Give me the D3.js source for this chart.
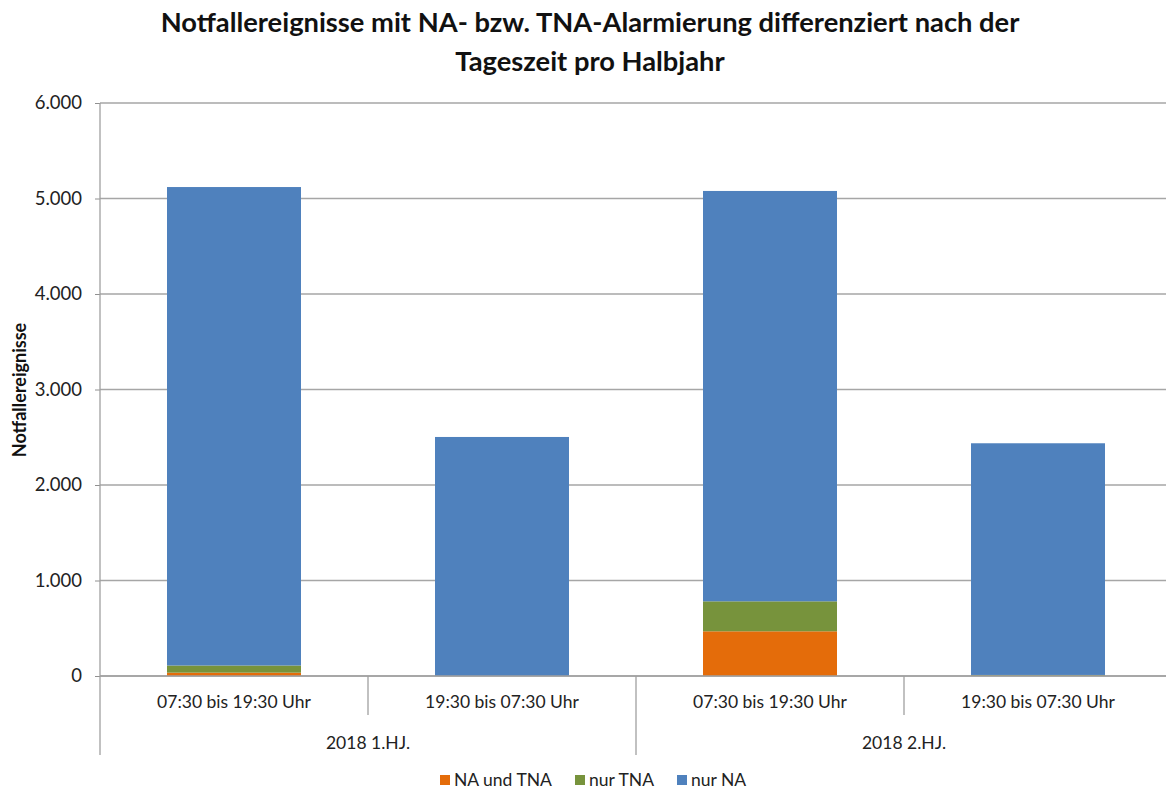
<!DOCTYPE html>
<html><head><meta charset="utf-8">
<script src="https://cdn.jsdelivr.net/npm/d3@7"></script>
<style>body{margin:0;background:#fff}svg{display:block}text{font-family:Lato,"Open Sans",sans-serif}</style>
</head><body><svg id="c" width="1166" height="790"></svg>
<script>
const categories = ["07:30 bis 19:30 Uhr","19:30 bis 07:30 Uhr","07:30 bis 19:30 Uhr","19:30 bis 07:30 Uhr"];
const groups = ["2018 1.HJ.","2018 2.HJ."];
const seriesNames = ["NA und TNA","nur TNA","nur NA"];
const naUndTna = [35, 0, 468, 3];
const nurTna = [75, 0, 314, 8];
const nurNa = [5010, 2503, 4297, 2426];
const yTicks = [0,1000,2000,3000,4000,5000,6000];
const colors = ["#E46C0A","#77933C","#4F81BD"];

const svg = d3.select("#c");
const pLeft = 100, pRight = 1172, pTop = 103, pBottom = 676;
const x = d3.scaleBand().domain(d3.range(categories.length)).range([pLeft,pRight]).paddingInner(0.5).paddingOuter(0.25);
const y = d3.scaleLinear().domain([0,6000]).range([pBottom,pTop]);
const fmt = v => d3.format(",")(v).replace(/,/g,".");

// gridlines
svg.append("g").selectAll("line").data(yTicks).join("line")
  .attr("x1",pLeft).attr("x2",1166).attr("y1",d=>y(d)).attr("y2",d=>y(d))
  .attr("stroke","#a6a6a6").attr("stroke-width",1.3);

// y axis
const ya = svg.append("g").attr("transform",`translate(${pLeft},0)`)
  .call(d3.axisLeft(y).tickValues(yTicks).tickFormat(fmt).tickSize(5).tickPadding(13));
ya.select(".domain").remove();
ya.selectAll(".tick line").attr("stroke","#909090");
ya.selectAll("text").attr("font-size",18.5).attr("fill","#222").style("font-family","Lato,'Open Sans',sans-serif");
svg.append("line").attr("x1",pLeft).attr("x2",pLeft).attr("y1",pTop).attr("y2",755).attr("stroke","#a0a0a0").attr("stroke-width",1.3);

// stacked bars
const data = categories.map((c,i)=>({i, a:naUndTna[i], b:nurTna[i], c:nurNa[i]}));
const stack = d3.stack().keys(["a","b","c"])(data);
svg.append("g").selectAll("g").data(stack).join("g").attr("fill",(d,k)=>colors[k])
  .selectAll("rect").data(d=>d).join("rect")
  .attr("x",d=>x(d.data.i)).attr("width",x.bandwidth())
  .attr("y",d=>y(d[1])).attr("height",d=>Math.max(0,y(d[0])-y(d[1])));

// x axis baseline
svg.append("line").attr("x1",pLeft).attr("x2",1166).attr("y1",pBottom).attr("y2",pBottom).attr("stroke","#a0a0a0").attr("stroke-width",1.3);
// category separators
const step = x.step();
categories.forEach((c,i)=>{
  if(i>0){
    const xx = pLeft + step*i;
    const full = i%2===0;
    svg.append("line").attr("x1",xx).attr("x2",xx).attr("y1",pBottom).attr("y2",full?755:715).attr("stroke","#a0a0a0").attr("stroke-width",1.3);
  }
  svg.append("text").attr("x",x(i)+x.bandwidth()/2).attr("y",708).attr("text-anchor","middle")
    .attr("font-size",17.5).attr("fill","#222").text(c);
});
groups.forEach((g,j)=>{
  svg.append("text").attr("x",pLeft+step*(2*j+1)).attr("y",749).attr("text-anchor","middle")
    .attr("font-size",17.5).attr("fill","#222").text(g);
});

// title
svg.append("text").attr("x",590).attr("y",32).attr("text-anchor","middle").attr("font-size",27.3).attr("font-weight","bold").attr("fill","#111")
  .text("Notfallereignisse mit NA- bzw. TNA-Alarmierung differenziert nach der");
svg.append("text").attr("x",590).attr("y",71).attr("text-anchor","middle").attr("font-size",27.3).attr("font-weight","bold").attr("fill","#111")
  .text("Tageszeit pro Halbjahr");

// y label
svg.append("text").attr("transform","translate(26,390) rotate(-90)").attr("text-anchor","middle")
  .attr("font-size",18).attr("font-weight","bold").attr("fill","#111").text("Notfallereignisse");

// legend
const legX = [440,575,677];
seriesNames.forEach((s,k)=>{
  svg.append("rect").attr("x",legX[k]).attr("y",775).attr("width",10).attr("height",10).attr("fill",colors[k]);
  svg.append("text").attr("x",legX[k]+14).attr("y",786).attr("font-size",17.5).attr("fill","#222").text(s);
});
</script></body></html>
